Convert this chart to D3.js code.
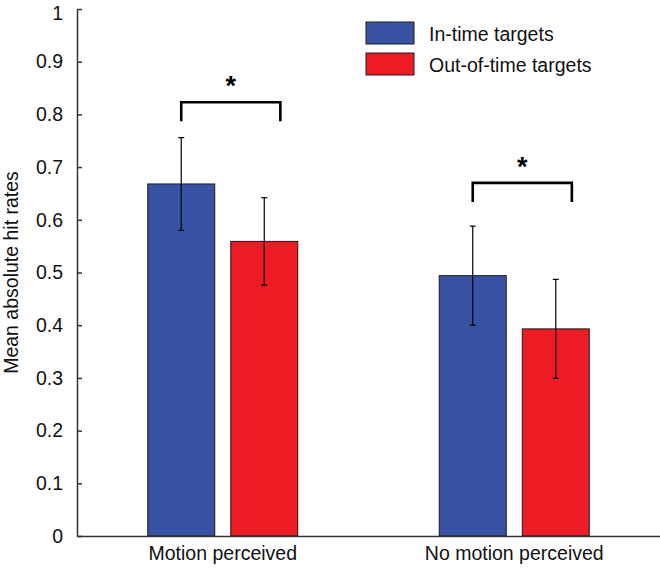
<!DOCTYPE html>
<html><head><meta charset="utf-8">
<script src="https://cdn.jsdelivr.net/npm/d3@7"></script>
<style>body{margin:0;background:#fff}svg{display:block}text{font-family:"Liberation Sans",Arial,sans-serif}</style>
</head><body><svg id="c" width="660" height="574"></svg>
<script>
const categories = ["Motion perceived", "No motion perceived"];
const seriesNames = ["In-time targets", "Out-of-time targets"];
const seriesColors = ["#3953a4", "#ed1c24"];
const inTimeMeans = [0.668, 0.494];
const outTimeMeans = [0.559, 0.393];
const inTimeErr = [0.088, 0.094];
const outTimeErr = [0.083, 0.094];
const yTicks = [0, 0.1, 0.2, 0.3, 0.4, 0.5, 0.6, 0.7, 0.8, 0.9, 1];
const bracketY = [0.823, 0.670];
const bracketLeg = [0.036, 0.036];
const sigLabel = ["*", "*"];

const svg = d3.select("#c");
const xL = 77, xR = 660, yB = 536, yT = 9;
const FS = 19.5;
const x0 = d3.scaleBand().domain(categories).range([xL, xR]).padding(0);
const x1 = d3.scaleBand().domain(seriesNames).range([0, x0.bandwidth()]).paddingInner(0.193).paddingOuter(0.852);
const y = d3.scaleLinear().domain([0, 1]).range([yB, yT]);

const data = categories.map((c, i) => ({
  cat: c,
  vals: [
    {s: seriesNames[0], v: inTimeMeans[i], e: inTimeErr[i], col: seriesColors[0]},
    {s: seriesNames[1], v: outTimeMeans[i], e: outTimeErr[i], col: seriesColors[1]}
  ]
}));

const g = svg.append("g");
const grp = g.selectAll("g.grp").data(data).join("g").attr("transform", d => `translate(${x0(d.cat)},0)`);
grp.selectAll("rect").data(d => d.vals).join("rect")
  .attr("x", d => x1(d.s)).attr("y", d => y(d.v))
  .attr("width", x1.bandwidth()).attr("height", d => y(0) - y(d.v))
  .attr("fill", d => d.col).attr("stroke", "#1a1a1a").attr("stroke-width", 1);

// error bars
const cap = 3;
grp.selectAll("g.err").data(d => d.vals).join("g").attr("class", "err").each(function(d) {
  const cx = x1(d.s) + x1.bandwidth() / 2;
  const s = d3.select(this);
  s.append("line").attr("x1", cx).attr("x2", cx).attr("y1", y(d.v + d.e)).attr("y2", y(d.v - d.e));
  s.append("line").attr("x1", cx - cap).attr("x2", cx + cap).attr("y1", y(d.v + d.e)).attr("y2", y(d.v + d.e));
  s.append("line").attr("x1", cx - cap).attr("x2", cx + cap).attr("y1", y(d.v - d.e)).attr("y2", y(d.v - d.e));
  s.selectAll("line").attr("stroke", "#000").attr("stroke-width", 1.2);
});

// significance brackets
data.forEach((d, i) => {
  const xa = x0(d.cat) + x1(seriesNames[0]) + x1.bandwidth() / 2;
  const xb = x0(d.cat) + x1(seriesNames[1]) + x1.bandwidth() * 0.74;
  const yt = y(bracketY[i]), yl = y(bracketY[i] - bracketLeg[i]);
  g.append("path").attr("d", `M${xa},${yl}V${yt}H${xb}V${yl}`)
    .attr("fill", "none").attr("stroke", "#000").attr("stroke-width", 2.6);
  g.append("text").attr("x", (xa + xb) / 2).attr("y", yt - 7)
    .attr("text-anchor", "middle").attr("font-size", 27).attr("font-weight", "bold").text(sigLabel[i]);
});

// axes
const yAxis = d3.axisLeft(y).tickValues(yTicks).tickSizeInner(-5).tickSizeOuter(0).tickPadding(14)
  .tickFormat(d => d3.format("")(d));
const ya = svg.append("g").attr("transform", `translate(${xL},0)`).call(yAxis);
ya.select(".domain").attr("stroke", "#333").attr("stroke-width", 1.5);
ya.selectAll(".tick line").attr("stroke", "#333").attr("stroke-width", 1.5);
ya.selectAll(".tick text").attr("font-size", FS).attr("fill", "#111").attr("font-family", "Liberation Sans, Arial, sans-serif")
  .attr("dy", d => d === 1 ? "0.55em" : "0.32em");

const xAxis = d3.axisBottom(x0).tickSize(0).tickPadding(10);
const xa = svg.append("g").attr("transform", `translate(0,${yB})`).call(xAxis);
xa.select(".domain").attr("stroke", "#333").attr("stroke-width", 1.5);
xa.selectAll(".tick text").attr("font-size", FS).attr("fill", "#111").attr("font-family", "Liberation Sans, Arial, sans-serif");

svg.append("text").attr("transform", `translate(18,${(yB + yT) / 2}) rotate(-90)`)
  .attr("text-anchor", "middle").attr("font-size", FS).attr("fill", "#111").text("Mean absolute hit rates");

// legend
const leg = svg.append("g").attr("transform", "translate(366,22)");
seriesNames.forEach((s, i) => {
  leg.append("rect").attr("x", 0).attr("y", i * 31).attr("width", 48).attr("height", 22)
    .attr("fill", seriesColors[i]).attr("stroke", "#1a1a1a").attr("stroke-width", 1);
  leg.append("text").attr("x", 63).attr("y", i * 31 + 12).attr("dy", "0.35em")
    .attr("font-size", FS).attr("fill", "#111").text(s);
});
</script></body></html>
